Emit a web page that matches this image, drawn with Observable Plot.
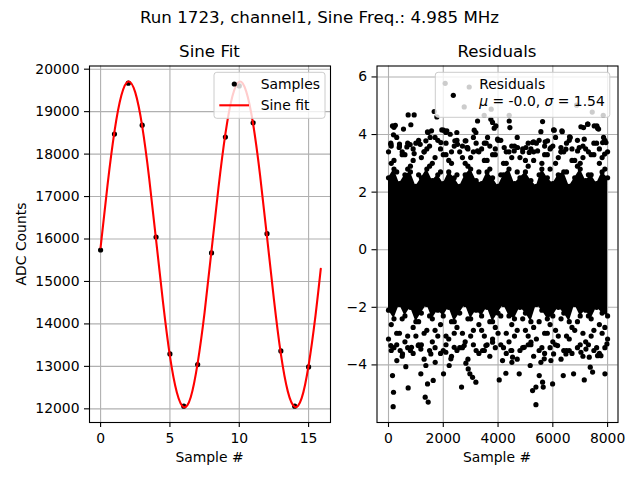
<!DOCTYPE html>
<html>
<head>
<meta charset="utf-8">
<script src="https://cdn.jsdelivr.net/npm/d3@7"></script>
<script src="https://cdn.jsdelivr.net/npm/@observablehq/plot@0.6"></script>
<style>
  html, body { margin: 0; padding: 0; background: white; }
  #fig { position: relative; width: 640px; height: 480px; background: white; font-family: "DejaVu Sans", sans-serif; overflow: hidden; }
  #fig svg { position: absolute; top: 0; overflow: visible; }
</style>
</head>
<body>
<div id="fig"></div>
<script>
// ---------- Left panel: samples and sine fit ----------
const sampleX = [0,1,2,3,4,5,6,7,8,9,10,11,12,13,14,15];
const sampleY = [15741,18471,19670,18682,16047,13294,12062,13042,15671,18400,19605,18737,16125,13365,12062,12988];

const fitX = [0,0.5,1,1.5,2,2.5,3,3.5,4,4.5,5,5.5,6,6.5,7,7.5,8,8.5,9,9.5,10,10.5,11,11.5,12,12.5,13,13.5,14,14.5,15,15.5,15.88];
const fitY = [15802,17271,18529,19384,19709,19453,18658,17441,15983,14513,13242,12386,12040,12274,13078,14269,15729,17204,18474,19355,19706,19478,18708,17506,16056,14580,13293,12411,12045,12251,13021,14203,15300];

const leftXTicks = [0,5,10,15];
const leftYTicks = [12000,13000,14000,15000,16000,17000,18000,19000,20000];

// ---------- Right panel: residuals ----------
const binSample = [0,200,400,600,800,1000,1200,1400,1600,1800,2000,2200,2400,2600,2800,3000,3200,3400,3600,3800,4000,4200,4400,4600,4800,5000,5200,5400,5600,5800,6000,6200,6400,6600,6800,7000,7200,7400,7600,7800,8000];
const midSample = [100,300,500,700,900,1100,1300,1500,1700,1900,2100,2300,2500,2700,2900,3100,3300,3500,3700,3900,4100,4300,4500,4700,4900,5100,5300,5500,5700,5900,6100,6300,6500,6700,6900,7100,7300,7500,7700,7900];

// dense core of the residual cloud (upper / lower edge per bin)
const coreUpper = [2.5,2.8,2.3,2.6,2.7,2.2,2.5,2.8,2.4,2.6,2.3,2.7,2.5,2.2,2.6,2.8,2.4,2.3,2.7,2.5,2.2,2.6,2.8,2.3,2.5,2.7,2.4,2.2,2.8,2.5,2.3,2.6,2.7,2.2,2.5,2.8,2.4,2.6,2.3,2.7,2.5];
const coreLower = [-2.1,-2.4,-1.9,-2.3,-2.0,-2.5,-2.2,-1.9,-2.4,-2.1,-2.3,-2.0,-2.5,-2.2,-1.9,-2.4,-2.1,-2.3,-2.0,-2.5,-2.2,-1.9,-2.3,-2.4,-2.0,-2.2,-2.5,-1.9,-2.1,-2.4,-2.3,-2.0,-2.2,-2.5,-1.9,-2.3,-2.1,-2.4,-2.0,-2.2,-2.3];

// fringe rows of points just outside the core
const upperRow2 = [3.0,2.7,3.3,2.8,3.1,2.6,3.4,2.9,3.2,2.7,3.3,3.0,2.6,3.2,2.9,3.4,2.7,3.1,2.8,3.3,2.6,3.0,3.2,2.7,3.4,2.9,3.1,2.6,3.3,2.8,3.0,3.4,2.7,3.1,2.9,3.2,2.6,3.3,3.0,2.8];
const upperRow3 = [3.4,3.1,3.6,3.3,2.9,3.7,3.2,3.5,3.0,3.8,3.3,3.1,3.6,3.4,3.0,3.2,3.7,3.5,3.1,3.3,3.8,3.0,3.4,3.6,3.2,3.1,3.5,3.7,3.0,3.3,3.6,3.2,3.4,3.8,3.1,3.0,3.5,3.3,3.7,3.2,3.4];
const upperRow4 = [3.6,3.9,3.4,3.7,3.5,3.8,3.4,3.6,3.9,3.5,3.7,3.4,3.8,3.6,3.5,3.9,3.4,3.7,3.6,3.5,3.8,3.4,3.6,3.9,3.5,3.7,3.4,3.8,3.6,3.5,3.9,3.4,3.7,3.5,3.8,3.6,3.4,3.7,3.5,3.8];
const lowerRow2 = [-2.6,-2.9,-2.4,-3.0,-2.7,-2.5,-2.9,-2.3,-2.8,-2.6,-3.0,-2.5,-2.7,-2.9,-2.4,-2.8,-2.6,-3.0,-2.5,-2.7,-2.3,-2.9,-2.6,-2.8,-2.4,-3.0,-2.7,-2.5,-2.9,-2.6,-2.8,-2.4,-3.0,-2.7,-2.5,-2.9,-2.3,-2.8,-2.6,-2.7];
const lowerRow3 = [-3.1,-3.4,-2.9,-3.2,-3.5,-3.0,-3.3,-2.8,-3.2,-3.0,-3.5,-3.1,-2.9,-3.4,-3.2,-3.0,-3.5,-2.8,-3.3,-3.1,-2.9,-3.4,-3.2,-3.0,-3.5,-2.8,-3.3,-3.1,-3.4,-2.9,-3.2,-3.0,-3.5,-3.1,-2.8,-3.3,-3.2,-3.0,-3.4,-2.9,-3.1];
const lowerRow4 = [-3.5,-3.3,-3.7,-3.4,-3.6,-3.3,-3.8,-3.5,-3.4,-3.6,-3.3,-3.7,-3.5,-3.4,-3.8,-3.3,-3.6,-3.5,-3.7,-3.4,-3.3,-3.6,-3.5,-3.8,-3.4,-3.3,-3.7,-3.5,-3.6,-3.4,-3.3,-3.8,-3.5,-3.6,-3.4,-3.7,-3.3,-3.5,-3.6,-3.4];

// sparse outlying residuals [sample #, residual]
const scatterPoints = [
  [2070,5.78],[2947,5.65],[2764,4.96],[3750,4.88],[3494,4.67],[4407,4.67],[6867,5.02],[7439,4.78],[7841,4.67],
  [718,4.68],[937,4.68],[816,4.34],[146,4.30],[200,4.25],[250,4.32],[183,3.99],[1668,4.80],[1766,4.61],[1571,4.13],
  [1449,4.07],[1364,3.78],[1157,3.66],[2009,4.15],[2094,4.07],[2253,4.01],[2423,3.78],[2825,3.78],[2886,3.55],
  [3130,4.15],[3190,4.07],[3251,4.47],[3799,4.42],[3860,4.22],[3921,4.30],[3738,4.53],[4408,4.47],[4432,4.24],
  [3982,3.84],[3617,3.90],[5626,4.45],[5565,4.10],[5261,3.72],[6052,4.15],[6344,4.10],[6637,3.90],[7026,4.27],
  [7270,4.36],[7513,4.30],[7635,4.22],[7818,3.72],[7148,3.84],[6965,3.55],[4590,3.43],[4712,3.55],[5017,3.55],
  [5139,3.38],[5808,3.78],[5930,3.55],[6296,3.55],[6478,3.49],[670,3.57],[390,3.55],[85,3.66],[937,3.34],
  [1912,3.72],[2521,3.66],[3251,3.43],[4225,3.55],[5443,3.43],[6904,3.43],[7891,3.32],[7940,3.72],
  [547,4.19],[1947,4.16],[2130,4.13],[1424,4.09],[1521,3.90],[6027,4.16],[6331,4.13],[6611,3.92],[7123,4.24],
  [7281,4.36],[7609,4.30],[7671,4.19],[7853,3.90],[5296,3.75],[5722,3.75],[3567,3.70],[2495,4.07],[2800,3.78],
  [2861,3.55],[84,3.70],[401,3.67],[791,3.65],
  [146,-4.37],[183,-4.95],[170,-5.45],[718,-4.80],[633,-4.06],[1181,-4.31],[1340,-5.12],[1449,-5.29],[1425,-4.66],
  [1632,-4.54],[1705,-3.91],[1364,-4.02],[2009,-4.31],[2216,-4.02],[2277,-3.79],[2667,-4.77],[2825,-3.94],
  [2910,-4.14],[2971,-4.31],[3069,-4.43],[3190,-4.60],[4043,-4.52],[4286,-4.29],[4164,-3.85],[4505,-3.91],
  [4530,-3.73],[4773,-4.31],[5175,-4.02],[5261,-4.89],[5383,-4.77],[5383,-5.38],[5504,-4.37],[5626,-4.60],
  [5650,-4.77],[5565,-3.91],[5687,-3.79],[5991,-4.66],[5930,-3.85],[6028,-3.62],[6381,-4.37],[6478,-3.62],
  [6600,-3.50],[6758,-4.31],[7148,-4.52],[7367,-4.08],[7452,-4.25],[7331,-3.73],[7635,-3.68],[7757,-3.68],
  [7903,-4.31],[304,-3.85],[426,-3.50],[511,-3.62],[840,-3.39],[1084,-3.33],[1181,-3.45],[1546,-3.62],
  [2094,-3.56],[2399,-3.39],[2764,-3.33],[3434,-3.50],[3556,-3.33],[3799,-3.21],[4469,-3.50],[4956,-3.39],
  [5200,-3.21],[6174,-3.33],[7026,-3.56],[7209,-3.45],[85,-3.33],[7976,-3.27]
];

const rightXTicks = [0,2000,4000,6000,8000];
const rightYTicks = [-4,-2,0,2,4,6];

// ---------- texts ----------
const suptitle = "Run 1723, channel1, Sine Freq.: 4.985 MHz";
const leftTitle = "Sine Fit";
const rightTitle = "Residuals";
const xLabel = "Sample #";
const yLabel = "ADC Counts";
const legendLeft = ["Samples", "Sine fit"];
const residMu = "-0.0", residSigma = "1.54";

// ---------- drawing ----------
const FONT = "DejaVu Sans";
const GRID = "#b0b0b0";
const fmt = d => d < 0 ? "\u2212" + Math.abs(d) : String(d);
const baseStyle = {fontFamily: FONT, fontSize: "13.9px", color: "black", background: "transparent", overflow: "visible"};
const fig = document.getElementById("fig");

const left = Plot.plot({
  width: 335, height: 480,
  marginLeft: 89, marginRight: 5, marginTop: 65.5, marginBottom: 58,
  style: baseStyle,
  x: {domain: [-0.8, 16.58]},
  y: {domain: [11678, 20075]},
  marks: [
    Plot.gridX(leftXTicks, {stroke: GRID, strokeOpacity: 1, strokeWidth: 1.1}),
    Plot.gridY(leftYTicks, {stroke: GRID, strokeOpacity: 1, strokeWidth: 1.1}),
    Plot.dot(sampleY, {x: sampleX, y: sampleY, r: 2.6, fill: "black", stroke: "none"}),
    Plot.line(fitY, {x: fitX, y: fitY, stroke: "#ff0000", strokeWidth: 2.1, curve: "natural"}),
    Plot.axisX(leftXTicks, {tickSize: 5, tickPadding: 6, tickFormat: fmt, label: null, fontSize: 13.9, strokeWidth: 1.1}),
    Plot.axisY(leftYTicks, {tickSize: 5, tickPadding: 5, tickFormat: fmt, label: null, fontSize: 13.9, strokeWidth: 1.1}),
    Plot.frame({stroke: "black", strokeWidth: 1.1})
  ]
});
left.style.left = "0px";
fig.appendChild(left);

const dotOpts = {r: 2.6, fill: "black", stroke: "none"};
const right = Plot.plot({
  width: 305, height: 480,
  marginLeft: 41.5, marginRight: 22.5, marginTop: 65.5, marginBottom: 58,
  style: baseStyle,
  x: {domain: [-420, 8380]},
  y: {domain: [-6.0, 6.38]},
  marks: [
    Plot.gridX(rightXTicks, {stroke: GRID, strokeOpacity: 1, strokeWidth: 1.1}),
    Plot.gridY(rightYTicks, {stroke: GRID, strokeOpacity: 1, strokeWidth: 1.1}),
    Plot.areaY(binSample, {x: binSample, y1: coreLower, y2: coreUpper, fill: "black", curve: "linear"}),
    Plot.dot(binSample, {x: binSample, y: coreUpper, ...dotOpts}),
    Plot.dot(binSample, {x: binSample, y: coreLower, ...dotOpts}),
    Plot.dot(midSample, {x: midSample, y: upperRow2, ...dotOpts}),
    Plot.dot(binSample, {x: binSample, y: upperRow3, ...dotOpts}),
    Plot.dot(midSample, {x: midSample, y: upperRow4, ...dotOpts}),
    Plot.dot(midSample, {x: midSample, y: lowerRow2, ...dotOpts}),
    Plot.dot(binSample, {x: binSample, y: lowerRow3, ...dotOpts}),
    Plot.dot(midSample, {x: midSample, y: lowerRow4, ...dotOpts}),
    Plot.dot(scatterPoints, {x: d => d[0], y: d => d[1], ...dotOpts}),
    Plot.axisX(rightXTicks, {tickSize: 5, tickPadding: 6, tickFormat: fmt, label: null, fontSize: 13.9, strokeWidth: 1.1}),
    Plot.axisY(rightYTicks, {tickSize: 5, tickPadding: 5, tickFormat: fmt, label: null, fontSize: 13.9, strokeWidth: 1.1}),
    Plot.frame({stroke: "black", strokeWidth: 1.1})
  ]
});
right.style.left = "335px";
fig.appendChild(right);

// overlay: titles, labels, legends
const ov = d3.select(fig).append("svg")
  .attr("width", 640).attr("height", 480)
  .style("left", "0px").style("top", "0px")
  .attr("font-family", FONT).attr("fill", "black");

ov.append("text").attr("x", 319.5).attr("y", 22.7).attr("text-anchor", "middle").attr("font-size", 16.67).text(suptitle);
ov.append("text").attr("x", 209.5).attr("y", 57.3).attr("text-anchor", "middle").attr("font-size", 16.67).text(leftTitle);
ov.append("text").attr("x", 497).attr("y", 57.3).attr("text-anchor", "middle").attr("font-size", 16.67).text(rightTitle);
ov.append("text").attr("x", 209.5).attr("y", 462).attr("text-anchor", "middle").attr("font-size", 13.9).text(xLabel);
ov.append("text").attr("x", 497).attr("y", 462).attr("text-anchor", "middle").attr("font-size", 13.9).text(xLabel);
ov.append("text").attr("transform", "translate(25.8,244) rotate(-90)").attr("text-anchor", "middle").attr("font-size", 13.9).text(yLabel);

// left legend
ov.append("rect").attr("x", 214).attr("y", 72.3).attr("width", 111).attr("height", 46)
  .attr("rx", 2.8).attr("fill", "white").attr("fill-opacity", 0.8).attr("stroke", "#cccccc").attr("stroke-width", 1);
ov.append("circle").attr("cx", 234.3).attr("cy", 84).attr("r", 2.6).attr("fill", "black");
ov.append("line").attr("x1", 219.3).attr("x2", 249).attr("y1", 105.3).attr("y2", 105.3).attr("stroke", "#ff0000").attr("stroke-width", 2.1);
ov.append("text").attr("x", 260.7).attr("y", 89).attr("font-size", 13.9).text(legendLeft[0]);
ov.append("text").attr("x", 260.7).attr("y", 110).attr("font-size", 13.9).text(legendLeft[1]);

// right legend
ov.append("rect").attr("x", 435.3).attr("y", 72.3).attr("width", 174.5).attr("height", 45)
  .attr("rx", 2.8).attr("fill", "white").attr("fill-opacity", 0.8).attr("stroke", "#cccccc").attr("stroke-width", 1);
ov.append("circle").attr("cx", 453.3).attr("cy", 95.3).attr("r", 2.6).attr("fill", "black");
ov.append("text").attr("x", 479.3).attr("y", 89).attr("font-size", 13.9).text(rightTitle);
const t2 = ov.append("text").attr("x", 479.3).attr("y", 105.5).attr("font-size", 13.9);
t2.append("tspan").attr("font-style", "italic").text("\u03bc");
t2.append("tspan").text(" = " + residMu + ", ");
t2.append("tspan").attr("font-style", "italic").text("\u03c3");
t2.append("tspan").text(" = " + residSigma);
</script>
</body>
</html>
